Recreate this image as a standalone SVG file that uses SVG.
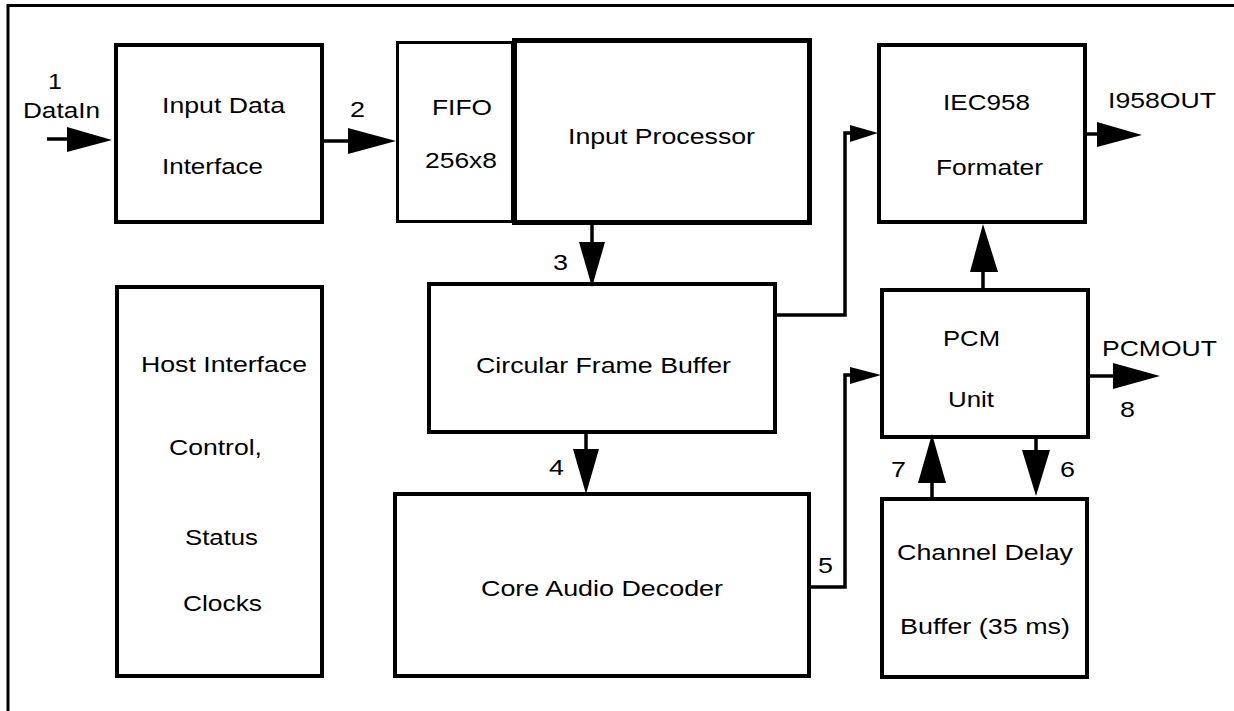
<svg xmlns="http://www.w3.org/2000/svg" width="1234" height="711" viewBox="0 0 1234 711">
<style>
.box{fill:#fff;stroke:#000;stroke-width:4}
.thin{stroke-width:3}
.thick{stroke-width:5}
.ln{fill:none;stroke:#000;stroke-width:3.5}
.ah{fill:#000;stroke:none}
text{font-family:"Liberation Sans",Arial,sans-serif;font-size:22px;fill:#000}
</style>
<rect width="1234" height="711" fill="#fff"/>
<polyline points="8,711 8,5.5 1234,5.5" fill="none" stroke="#000" stroke-width="3"/>
<g id="input-data-interface">
<rect class="box" x="116" y="45" width="206" height="177"/>
<text x="162" y="113" textLength="123" lengthAdjust="spacingAndGlyphs">Input Data</text>
<text x="162" y="174" textLength="101" lengthAdjust="spacingAndGlyphs">Interface</text>
</g>
<g id="host-interface">
<rect class="box" x="117" y="287" width="205" height="389"/>
<text x="141" y="372" textLength="166" lengthAdjust="spacingAndGlyphs">Host Interface</text>
<text x="169" y="455" textLength="93" lengthAdjust="spacingAndGlyphs">Control,</text>
<text x="185" y="545" textLength="73" lengthAdjust="spacingAndGlyphs">Status</text>
<text x="183" y="611" textLength="79" lengthAdjust="spacingAndGlyphs">Clocks</text>
</g>
<g id="fifo">
<rect class="box thin" x="397.5" y="42.5" width="115" height="179"/>
<text x="432" y="115" textLength="60" lengthAdjust="spacingAndGlyphs">FIFO</text>
<text x="425" y="168" textLength="72" lengthAdjust="spacingAndGlyphs">256x8</text>
</g>
<g id="input-processor">
<rect class="box thick" x="514.5" y="40.5" width="295" height="182"/>
<text x="568" y="144" textLength="187" lengthAdjust="spacingAndGlyphs">Input Processor</text>
</g>
<g id="circular-frame-buffer">
<rect class="box" x="429" y="284" width="346" height="148"/>
<text x="476" y="373" textLength="255" lengthAdjust="spacingAndGlyphs">Circular Frame Buffer</text>
</g>
<g id="core-audio-decoder">
<rect class="box" x="395" y="494" width="414" height="182"/>
<text x="481" y="596" textLength="242" lengthAdjust="spacingAndGlyphs">Core Audio Decoder</text>
</g>
<g id="iec958-formater">
<rect class="box" x="879" y="45" width="206" height="177"/>
<text x="943" y="110" textLength="87" lengthAdjust="spacingAndGlyphs">IEC958</text>
<text x="936" y="175" textLength="107" lengthAdjust="spacingAndGlyphs">Formater</text>
</g>
<g id="pcm-unit">
<rect class="box" x="882" y="290" width="206" height="147"/>
<text x="943" y="346" textLength="57" lengthAdjust="spacingAndGlyphs">PCM</text>
<text x="948" y="407" textLength="46" lengthAdjust="spacingAndGlyphs">Unit</text>
</g>
<g id="channel-delay-buffer">
<rect class="box" x="882" y="499" width="205" height="178"/>
<text x="897" y="560" textLength="176" lengthAdjust="spacingAndGlyphs">Channel Delay</text>
<text x="900" y="634" textLength="170" lengthAdjust="spacingAndGlyphs">Buffer (35 ms)</text>
</g>
<g id="connectors">
<line class="ln" x1="47" y1="139" x2="68" y2="139"/>
<polygon class="ah" points="67,127 67,152 112,140"/>
<line class="ln" x1="322" y1="141" x2="349" y2="141"/>
<polygon class="ah" points="348,128 348,154 396,141"/>
<line class="ln" x1="592" y1="224" x2="592" y2="243"/>
<polygon class="ah" points="579,242 605,242 592,287"/>
<polyline class="ln" points="775,315 845,315 845,133 851,133"/>
<polygon class="ah" points="850,125 850,142 878,133"/>
<line class="ln" x1="586" y1="432" x2="586" y2="450"/>
<polygon class="ah" points="573,449 599,449 586,494"/>
<polyline class="ln" points="809,587 845,587 845,375 851,375"/>
<polygon class="ah" points="850,367 850,384 881,375"/>
<line class="ln" x1="983" y1="289" x2="983" y2="271"/>
<polygon class="ah" points="970,272 998,272 983,224"/>
<line class="ln" x1="1085" y1="134" x2="1098" y2="134"/>
<polygon class="ah" points="1097,122 1097,147 1142,135"/>
<line class="ln" x1="1088" y1="376" x2="1114" y2="376"/>
<polygon class="ah" points="1113,363 1113,389 1160,376"/>
<line class="ln" x1="932" y1="498" x2="932" y2="482"/>
<polygon class="ah" points="918,483 946,483 932,434"/>
<line class="ln" x1="1036" y1="435" x2="1036" y2="451"/>
<polygon class="ah" points="1022,450 1050,450 1036,496"/>
<text x="48" y="89" textLength="14" lengthAdjust="spacingAndGlyphs">1</text>
<text x="23" y="118" textLength="77" lengthAdjust="spacingAndGlyphs">DataIn</text>
<text x="350" y="117" textLength="15" lengthAdjust="spacingAndGlyphs">2</text>
<text x="553" y="270" textLength="15" lengthAdjust="spacingAndGlyphs">3</text>
<text x="549" y="475" textLength="15" lengthAdjust="spacingAndGlyphs">4</text>
<text x="818" y="573" textLength="15" lengthAdjust="spacingAndGlyphs">5</text>
<text x="1060" y="477" textLength="15" lengthAdjust="spacingAndGlyphs">6</text>
<text x="891" y="477" textLength="15" lengthAdjust="spacingAndGlyphs">7</text>
<text x="1120" y="417" textLength="15" lengthAdjust="spacingAndGlyphs">8</text>
<text x="1108" y="108" textLength="108" lengthAdjust="spacingAndGlyphs">I958OUT</text>
<text x="1102" y="356" textLength="115" lengthAdjust="spacingAndGlyphs">PCMOUT</text>
</g>
</svg>
